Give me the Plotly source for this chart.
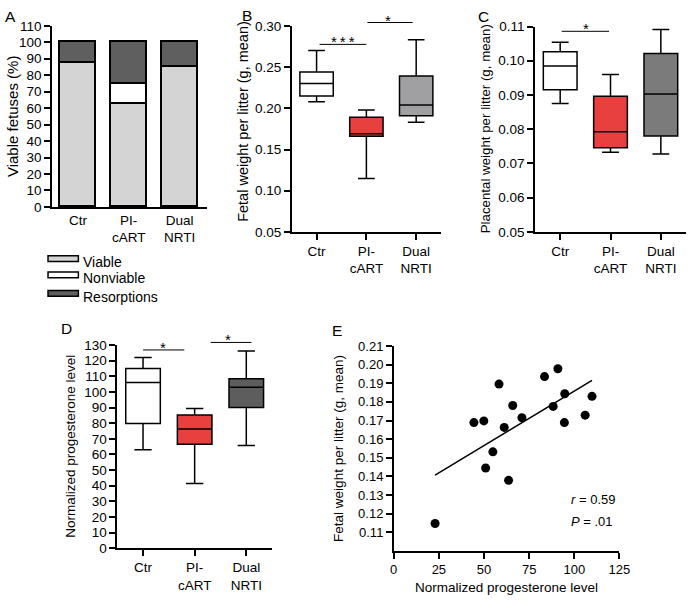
import numpy as np
import plotly.graph_objects as go

W, H = 697, 605
FONT = "Liberation Sans, Arial, sans-serif"
INK = "#000000"
RED = "#e8403f"

# ── Data ──────────────────────────────────────────────────────────────────────
GROUP_TICKS = ["Ctr", "PI-<br>cART", "Dual<br>NRTI"]
GROUP_POS = [0, 1, 2]

# A: outcome of fetuses (%)
viable = [87.5, 62.5, 85.3]
nonviable = [0.0, 12.5, 0.0]
resorptions = [12.5, 25.0, 14.7]

# B: fetal weight per litter (g, mean)
fetal_low = [0.208, 0.115, 0.183]
fetal_q1 = [0.215, 0.166, 0.191]
fetal_med = [0.230, 0.169, 0.204]
fetal_q3 = [0.244, 0.189, 0.239]
fetal_high = [0.270, 0.198, 0.283]

# C: placental weight per litter (g, mean)
plac_low = [0.0875, 0.0733, 0.0728]
plac_q1 = [0.0915, 0.0746, 0.0780]
plac_med = [0.0985, 0.0793, 0.0903]
plac_q3 = [0.1026, 0.0896, 0.1021]
plac_high = [0.1054, 0.0960, 0.1091]

# D: normalized progesterone level
prog_low = [63.0, 41.4, 65.7]
prog_q1 = [79.8, 66.6, 90.1]
prog_med = [106.0, 76.3, 103.0]
prog_q3 = [115.0, 85.3, 108.4]
prog_high = [122.1, 89.4, 126.2]

# E: progesterone vs fetal weight
prog_level = [22.9, 44.4, 49.9, 50.9, 54.9, 58.3, 61.2, 63.6, 65.9, 71.0,
              83.5, 88.3, 90.9, 94.7, 94.5, 106.0, 109.8]
fetal_weight = [0.1147, 0.1689, 0.1698, 0.1445, 0.1532, 0.1896, 0.1663, 0.1379, 0.1781, 0.1715,
                0.1936, 0.1776, 0.1978, 0.1844, 0.1689, 0.1729, 0.1830]

# ── Layout geometry (pixels -> paper) ─────────────────────────────────────────
def px(x):
    return x / W


def py(y):
    return 1 - y / H


PANELS = {
    "A": dict(xd=[px(49), px(207)], yd=[py(205), py(19.3)], xr=[-0.51, 2.53], yr=[0, 110]),
    "B": dict(xd=[px(294), px(446.7)], yd=[py(230.7), py(19.3)], xr=[-0.5, 2.5], yr=[0.05, 0.30]),
    "C": dict(xd=[px(542.7), 1.0], yd=[py(230.7), py(20)], xr=[-0.5, 2.5], yr=[0.05, 0.11]),
    "D": dict(xd=[px(115.7), px(274)], yd=[py(555), py(346.7)], xr=[-0.5, 2.5], yr=[0, 130]),
    "E": dict(xd=[px(398.3), px(629)], yd=[py(557.7), py(347.7)], xr=[0, 125], yr=[0.10, 0.21]),
}


def to_px(p, v):
    d, r = PANELS[p]["xd"], PANELS[p]["xr"]
    return d[0] + (v - r[0]) / (r[1] - r[0]) * (d[1] - d[0])


def to_py(p, v):
    d, r = PANELS[p]["yd"], PANELS[p]["yr"]
    return d[0] + (v - r[0]) / (r[1] - r[0]) * (d[1] - d[0])


def axis(p, letter, anchor, size=13.5, **kw):
    key = "xd" if letter == "x" else "yd"
    rkey = "xr" if letter == "x" else "yr"
    out = dict(
        domain=PANELS[p][key], range=PANELS[p][rkey], anchor=anchor,
        showline=True, linecolor=INK, linewidth=1.5,
        ticks="outside", ticklen=6, tickwidth=1.5, tickcolor=INK,
        showgrid=False, zeroline=False,
        tickfont=dict(family=FONT, size=size, color=INK),
    )
    out.update(kw)
    return out


fig = go.Figure()

# ── A: stacked bars ───────────────────────────────────────────────────────────
A_SERIES = [("Viable", viable, "#d4d4d4"),
            ("Nonviable", nonviable, "#ffffff"),
            ("Resorptions", resorptions, "#5f5f5f")]
for name, vals, col in A_SERIES:
    fig.add_trace(go.Bar(
        x=GROUP_POS, y=vals, name=name, width=0.71,
        marker=dict(color=col, line=dict(color=INK, width=1.5)),
        xaxis="x", yaxis="y", showlegend=False,
    ))

# ── B, C, D: box plots ────────────────────────────────────────────────────────
BOX_SETS = [
    ("B", "2", (fetal_low, fetal_q1, fetal_med, fetal_q3, fetal_high), ["#ffffff", RED, "#a0a0a2"]),
    ("C", "3", (plac_low, plac_q1, plac_med, plac_q3, plac_high), ["#ffffff", RED, "#7b7b7b"]),
    ("D", "4", (prog_low, prog_q1, prog_med, prog_q3, prog_high), ["#ffffff", RED, "#5d5d5d"]),
]
for p, n, (lo, q1, med, q3, hi), cols in BOX_SETS:
    for i in GROUP_POS:
        fig.add_trace(go.Box(
            x=[i], lowerfence=[lo[i]], q1=[q1[i]], median=[med[i]], q3=[q3[i]], upperfence=[hi[i]],
            width=0.67, whiskerwidth=0.5, fillcolor=cols[i],
            line=dict(color=INK, width=1.5), boxpoints=False,
            xaxis="x" + n, yaxis="y" + n, showlegend=False,
        ))

# ── E: scatter + linear fit ───────────────────────────────────────────────────
fig.add_trace(go.Scatter(
    x=prog_level, y=fetal_weight, mode="markers",
    marker=dict(color=INK, size=9), xaxis="x5", yaxis="y5", showlegend=False,
))
slope, intercept = np.polyfit(prog_level, fetal_weight, 1)
fit_x = np.array([min(prog_level), max(prog_level)])
fig.add_trace(go.Scatter(
    x=fit_x, y=slope * fit_x + intercept, mode="lines",
    line=dict(color=INK, width=1.5), xaxis="x5", yaxis="y5", showlegend=False,
))

# ── Axes ──────────────────────────────────────────────────────────────────────
cat = dict(tickvals=GROUP_POS, ticktext=GROUP_TICKS)
fig.update_layout(
    xaxis=axis("A", "x", "y", ticks="", **cat),
    yaxis=axis("A", "y", "x", dtick=10),
    xaxis2=axis("B", "x", "y2", **cat),
    yaxis2=axis("B", "y", "x2", tickvals=[0.05, 0.10, 0.15, 0.20, 0.25, 0.30], tickformat=".2f"),
    xaxis3=axis("C", "x", "y3", **cat),
    yaxis3=axis("C", "y", "x3", tickvals=[0.05, 0.06, 0.07, 0.08, 0.09, 0.10, 0.11], tickformat=".2f"),
    xaxis4=axis("D", "x", "y4", **cat),
    yaxis4=axis("D", "y", "x4", dtick=10),
    xaxis5=axis("E", "x", "y5", size=13, dtick=25),
    yaxis5=axis("E", "y", "x5", size=13, tickvals=[round(0.11 + 0.01 * k, 2) for k in range(11)],
                tickformat=".2f"),
)

# ── Significance bars ─────────────────────────────────────────────────────────
STAR = "*"
TRIPLE = "\u2009".join([STAR] * 3)
SIG = [  # panel, x start, x end, y level, star x, label
    ("B", 0.06, 1.00, 0.2775, 0.53, TRIPLE),
    ("B", 1.02, 1.93, 0.304, 1.43, STAR),
    ("C", 0.03, 0.97, 0.1086, 0.52, STAR),
    ("D", 0.00, 0.80, 126.9, 0.39, STAR),
    ("D", 1.31, 2.10, 131.7, 1.65, STAR),
]
shapes, annots = [], []
for p, x0, x1, yv, xs, lab in SIG:
    yp = to_py(p, yv)
    shapes.append(dict(type="line", xref="paper", yref="paper",
                       x0=to_px(p, x0), x1=to_px(p, x1), y0=yp, y1=yp,
                       line=dict(color=INK, width=1)))
    annots.append(dict(text=lab, xref="paper", yref="paper", x=to_px(p, xs), y=yp,
                       xanchor="center", yanchor="bottom", yshift=-8, showarrow=False,
                       font=dict(family=FONT, size=15, color=INK)))

# ── Legend for A (drawn) ──────────────────────────────────────────────────────
LEG_Y = [258, 274.7, 293.7]
for (name, _, col), ly in zip(A_SERIES, LEG_Y):
    shapes.append(dict(type="rect", xref="paper", yref="paper",
                       x0=px(45), x1=px(76), y0=py(ly + 3), y1=py(ly - 3),
                       fillcolor=col, line=dict(color=INK, width=1.5)))
    annots.append(dict(text=name, xref="paper", yref="paper", x=px(79), y=py(ly + 3.5),
                       xanchor="left", yanchor="middle", showarrow=False,
                       font=dict(family=FONT, size=14, color=INK)))

# ── Axis titles, panel letters, stats ─────────────────────────────────────────
TITLES = [  # text, x px, y px, angle, size
    ("Viable fetuses (%)", 8, 112, -90, 15),
    ("Fetal weight per litter (g, mean)", 244, 117, -90, 14.5),
    ("Placental weight per litter (g, mean)", 492, 125, -90, 13.3),
    ("Normalized progesterone level", 68.5, 451, -90, 13.5),
    ("Fetal weight per litter (g, mean)", 342.5, 453, -90, 13.5),
    ("Normalized progesterone level", 514, 595, 0, 13.5),
]
for t, x, y, a, s in TITLES:
    annots.append(dict(text=t, xref="paper", yref="paper", x=px(x), y=py(y), textangle=a,
                       xanchor="center", yanchor="middle", showarrow=False,
                       font=dict(family=FONT, size=s, color=INK)))

LETTERS = [("A", 7, 10), ("B", 248.5, 9), ("C", 490.5, 10), ("D", 63.5, 329.5), ("E", 340.5, 332)]
for t, x, y in LETTERS:
    annots.append(dict(text=t, xref="paper", yref="paper", x=px(x), y=py(y),
                       xanchor="center", yanchor="middle", showarrow=False,
                       font=dict(family=FONT, size=15.5, color=INK)))

r_val, p_val = 0.59, ".01"
annots.append(dict(text=f"<i>r</i> = {r_val}", xref="paper", yref="paper", x=px(577), y=py(505),
                   xanchor="left", yanchor="middle", showarrow=False,
                   font=dict(family=FONT, size=13, color=INK)))
annots.append(dict(text=f"<i>P</i> = {p_val}", xref="paper", yref="paper", x=px(577), y=py(528),
                   xanchor="left", yanchor="middle", showarrow=False,
                   font=dict(family=FONT, size=13, color=INK)))

fig.update_layout(
    width=W, height=H, margin=dict(l=0, r=0, t=0, b=0),
    paper_bgcolor="white", plot_bgcolor="white",
    barmode="stack", boxmode="overlay", bargap=0,
    font=dict(family=FONT, color=INK),
    shapes=shapes, annotations=annots, showlegend=False,
)

# drop the browser's default 8px body margin so the figure sits at (0, 0)
fig.write_html("out.html", config={"displayModeBar": False},
               post_script="document.body.style.margin='0px';")
